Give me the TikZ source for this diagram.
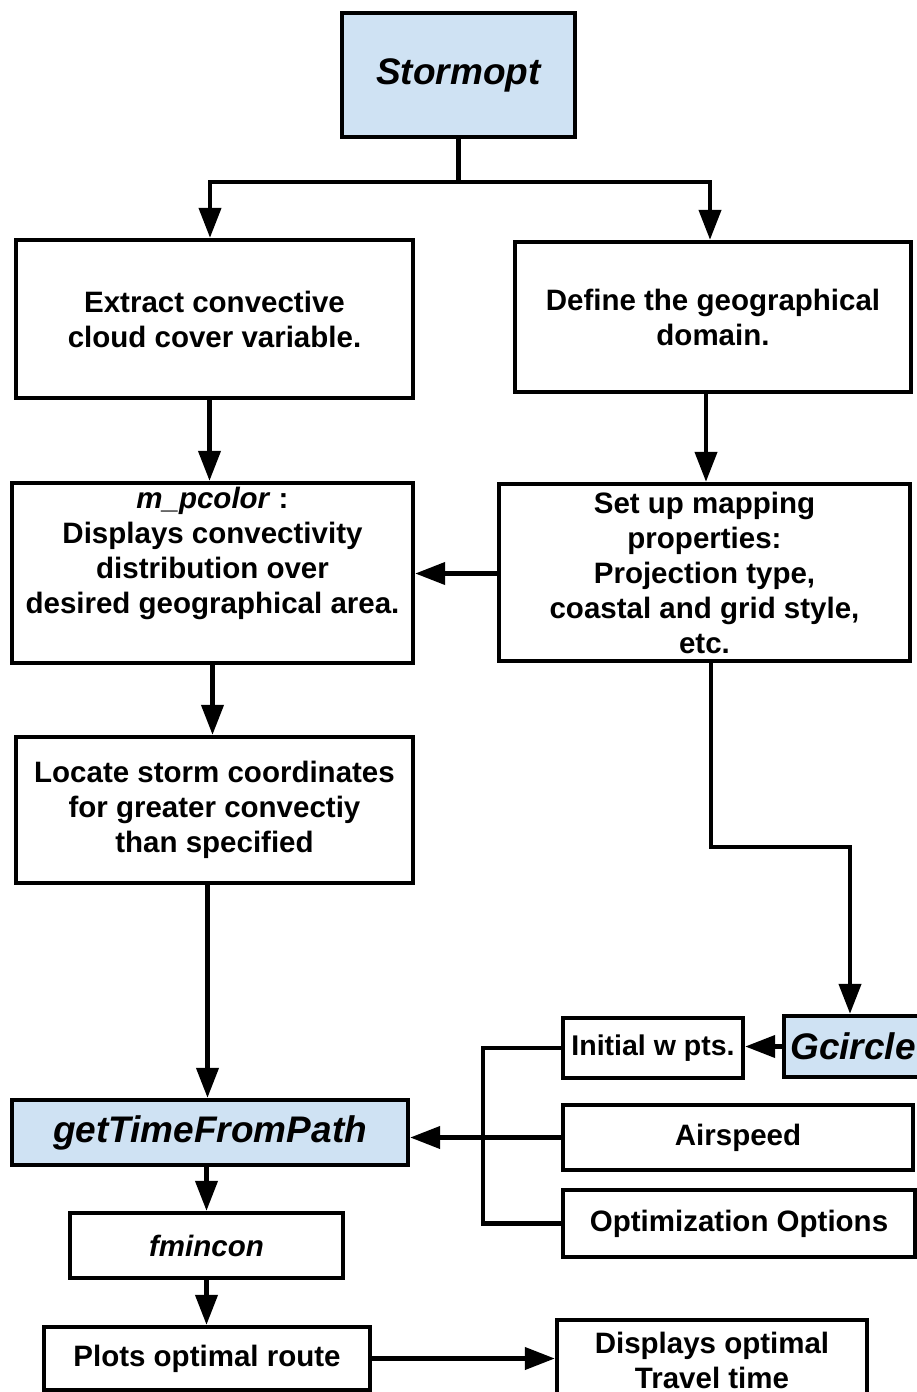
\documentclass[tikz,border=0pt]{standalone}
\usepackage{fontspec}
\setmainfont{Liberation Sans}
\usetikzlibrary{arrows.meta}
\definecolor{procblue}{HTML}{CFE2F3}
\begin{document}
\begin{tikzpicture}[x=1pt,y=-1pt,
  box/.style={draw=black, line width=4.4pt, fill=white, rectangle, inner sep=0pt,
    align=center, font=\fontsize{29.5}{35}\selectfont\bfseries},
  keybox/.style={box, fill=procblue, font=\fontsize{37}{42}\selectfont\bfseries\itshape},
  wire/.style={line width=4.2pt, line join=miter},
  arr/.style={wire, -{Triangle[length=30pt,width=22pt]}}]
\useasboundingbox (0,0) rectangle (917,1392);
\clip (0,0) rectangle (917,1392);

% main chain, left column
\node[keybox, minimum width=233, minimum height=124] (storm) at (458.5,75) {Stormopt};
\node[box, minimum width=397, minimum height=158] (extract) at (214.5,319)
  {Extract convective\\cloud cover variable.};
\node[box, minimum width=396, minimum height=150] (define) at (713,317)
  {Define the geographical\\domain.};
\node[box, minimum width=401, minimum height=180] (mpc) at (212.5,573)
  {\textit{m\_pcolor} :\\Displays convectivity\\distribution over\\desired geographical area.\\\strut};
\node[box, minimum width=411, minimum height=177] (setup) at (704.5,572.5)
  {Set up mapping\\properties:\\Projection type,\\coastal and grid style,\\etc.};
\node[box, minimum width=397, minimum height=146] (locate) at (214.5,810)
  {Locate storm coordinates\\for greater convectiy\\than specified};

% optimisation stage
\node[keybox, minimum width=396, minimum height=65] (gtp) at (210,1132.5) {getTimeFromPath};
\node[box, minimum width=273, minimum height=65, font=\fontsize{29.5}{35}\selectfont\bfseries\itshape]
  (fmin) at (206.5,1245.5) {fmincon};
\node[box, minimum width=326, minimum height=63] (plots) at (207,1358.5) {Plots optimal route};
\node[box, minimum width=310, minimum height=80] (disp) at (712,1360)
  {Displays optimal\\Travel time};

% inputs on the right
\node[keybox, minimum width=138, minimum height=61] (gcirc) at (853,1046.5) {Gcircle};
\node[box, minimum width=180, minimum height=60, font=\fontsize{28.5}{34}\selectfont\bfseries]
  (initw) at (653,1048) {Initial w pts.};
\node[box, minimum width=350, minimum height=65] (airsp) at (738,1137.5) {Airspeed};
\node[box, minimum width=352, minimum height=67] (optopt) at (739,1223.5) {Optimization Options};

\coordinate (split) at (458.5,182);
\coordinate (busx) at (483,1137.5);

% connectors
\draw[wire] (storm.south) -- (split);
\draw[arr] (split) -| ([xshift=-4.5]extract.north);
\draw[arr] (split) -| ([xshift=-3]define.north);
\draw[arr] ([xshift=-5]extract.south) -- ([xshift=-5]extract.south |- mpc.north);
\draw[arr] ([xshift=-7]define.south) -- ([xshift=-7]define.south |- setup.north);
\draw[arr] ([yshift=-1]setup.west) -- ([yshift=-1]setup.west -| mpc.east);
\draw[arr] (mpc.south) -- (mpc.south |- locate.north);
\draw[arr] ([xshift=-7]locate.south) -- ([xshift=-7]locate.south |- gtp.north);
\draw[arr] ([xshift=6.5]setup.south) -- ++(0,184) -| ([xshift=-3]gcirc.north);
\draw[arr] (gcirc.west) -- (gcirc.west -| initw.east);
\draw[wire] (initw.west) -| (busx) |- (optopt.west);
\draw[arr] (airsp.west) -- (airsp.west -| gtp.east);
\draw[arr] (fmin.north |- gtp.south) -- (fmin.north);
\draw[arr] (fmin.south) -- (fmin.south |- plots.north);
\draw[arr] (plots.east) -- (plots.east -| disp.west);
\end{tikzpicture}
\end{document}
